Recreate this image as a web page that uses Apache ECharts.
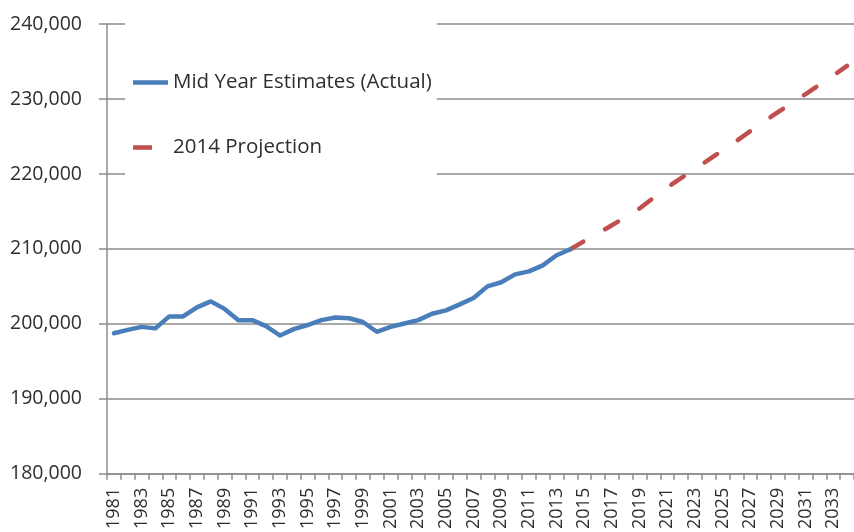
<!DOCTYPE html>
<html>
<head>
<meta charset="utf-8">
<script src="https://cdn.jsdelivr.net/npm/echarts@6/dist/echarts.min.js"></script>
<style>
  html, body { margin: 0; padding: 0; background: #fff; }
  #chart { width: 854px; height: 532px; }
</style>
</head>
<body>
<div id="chart"></div>
<script>
// Population: mid-year estimates 1981-2014 and the 2014-based projection to 2034
const years = [
  '1981','1982','1983','1984','1985','1986','1987','1988','1989','1990',
  '1991','1992','1993','1994','1995','1996','1997','1998','1999','2000',
  '2001','2002','2003','2004','2005','2006','2007','2008','2009','2010',
  '2011','2012','2013','2014','2015','2016','2017','2018','2019','2020',
  '2021','2022','2023','2024','2025','2026','2027','2028','2029','2030',
  '2031','2032','2033','2034'
];

// Mid Year Estimates (Actual), 1981-2014
const actual = [
  198750, 199200, 199600, 199400, 201000, 201000, 202200, 203000, 202000, 200500,
  200500, 199700, 198450, 199300, 199850, 200500, 200850, 200750, 200250, 198950,
  199600, 200050, 200500, 201350, 201800, 202600, 203450, 205000, 205550, 206600,
  207000, 207800, 209150, 209950
];

// 2014 Projection, 2014-2034
const projection = [
  209950, 211050, 212100, 213150, 214250, 215400, 216800, 218200, 219450, 220650,
  221900, 223150, 224400, 225700, 227000, 228250, 229450, 230650, 231900, 233150,
  234400
];

const yTicks = { min: 180000, max: 240000, step: 10000 };

const projStart = years.indexOf('2014');
const actualSeries = years.map((y, i) => (i < actual.length ? actual[i] : null));
const projSeries = years.map((y, i) => (i >= projStart ? projection[i - projStart] : null));

const FONT = '"Open Sans", "Liberation Sans", sans-serif';
const TEXT = '#2e2e2e';
const GRID = '#8c8c8c';
const BLUE = '#4a7ebb';
const RED = '#c0504d';

// legend keys: a solid stroke, and a single dash of the projection line
const SOLID_KEY = 'path://M0,0H35V4.5H0Z';
const DASH_KEY = 'path://M0,0H19V4.5H0Z M34.99,0H35V4.5H34.99Z';

const chart = echarts.init(document.getElementById('chart'), null, { renderer: 'canvas' });

chart.setOption({
  animation: false,
  backgroundColor: '#ffffff',
  // the plot runs on past the right edge of the canvas
  grid: { left: 107, right: -14, top: 24, bottom: 57, containLabel: false },
  legend: {
    orient: 'vertical',
    left: 125,
    top: 20,
    padding: [52, 5, 22, 8],
    backgroundColor: '#ffffff',
    itemWidth: 35,
    itemHeight: 4.5,
    itemGap: 44,
    selectedMode: false,
    textStyle: { fontFamily: FONT, fontSize: 20.5, color: TEXT, lineHeight: 20 },
    data: [
      { name: 'Mid Year Estimates (Actual)', icon: SOLID_KEY, itemStyle: { color: BLUE } },
      { name: '2014 Projection', icon: DASH_KEY, itemStyle: { color: RED } }
    ]
  },
  xAxis: {
    type: 'category',
    data: years,
    boundaryGap: true,
    axisLine: { show: true, lineStyle: { color: GRID, width: 1.5 } },
    axisTick: { show: true, interval: 0, length: 6, lineStyle: { color: GRID, width: 1.5 } },
    axisLabel: {
      interval: 1,
      rotate: 90,
      margin: 14,
      fontFamily: FONT,
      fontSize: 18,
      color: TEXT,
      padding: [0, 0, 6, 0]
    },
    splitLine: { show: false }
  },
  yAxis: {
    type: 'value',
    min: yTicks.min,
    max: yTicks.max,
    interval: yTicks.step,
    axisLine: { show: true, lineStyle: { color: GRID, width: 1.5 } },
    axisTick: { show: true, length: 8, lineStyle: { color: GRID, width: 1.5 } },
    axisLabel: {
      margin: 25,
      fontFamily: FONT,
      fontSize: 19.5,
      color: TEXT,
      formatter: v => v.toLocaleString('en-US')
    },
    splitLine: { show: true, lineStyle: { color: GRID, width: 1.5 } }
  },
  series: [
    {
      name: 'Mid Year Estimates (Actual)',
      type: 'line',
      data: actualSeries,
      showSymbol: false,
      symbol: 'none',
      connectNulls: false,
      z: 3,
      lineStyle: { color: BLUE, width: 4.5, cap: 'round', join: 'round' },
      itemStyle: { color: BLUE }
    },
    {
      name: '2014 Projection',
      type: 'line',
      data: projSeries,
      showSymbol: false,
      symbol: 'none',
      z: 2,
      lineStyle: { color: RED, width: 4.5, type: [15, 25], cap: 'round', join: 'round' },
      itemStyle: { color: RED }
    }
  ]
});
</script>
</body>
</html>
